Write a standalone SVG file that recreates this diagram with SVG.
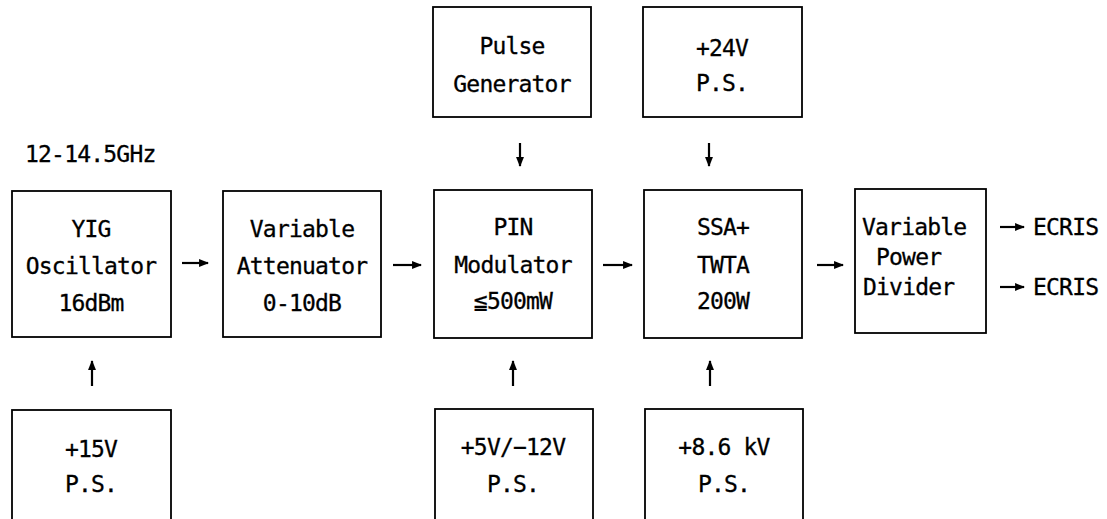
<svg xmlns="http://www.w3.org/2000/svg" width="1107" height="519" viewBox="0 0 1107 519">
<style>
.box{fill:#fff;stroke:#000;stroke-width:1.8}
text{font-family:"DejaVu Sans Mono","Liberation Mono","Noto Sans CJK JP",monospace;font-size:23px;letter-spacing:-0.8px;fill:#000;stroke:#000;stroke-width:0.3}
.c{text-anchor:middle}
.arr{stroke:#000;stroke-width:2.2;fill:none;marker-end:url(#ah)}
</style>
<defs>
<marker id="ah" viewBox="0 0 10 10" refX="9" refY="5" markerWidth="4.5" markerHeight="4.5" orient="auto" markerUnits="strokeWidth">
<path d="M0,1 L10,5 L0,9 Z" fill="#000"/>
</marker>
</defs>
<rect width="1107" height="519" fill="#fff"/>
<text x="25" y="162">12-14.5GHz</text>
<g id="yig"><rect class="box" x="12" y="191" width="159" height="146"/>
<text class="c" x="91" y="237">YIG</text><text class="c" x="91" y="274">Oscillator</text><text class="c" x="91" y="311">16dBm</text></g>
<g id="att"><rect class="box" x="223" y="191" width="158" height="146"/>
<text class="c" x="302" y="237">Variable</text><text class="c" x="302" y="274">Attenuator</text><text class="c" x="302" y="311">0-10dB</text></g>
<g id="pin"><rect class="box" x="434" y="190" width="158" height="148"/>
<text class="c" x="513" y="235">PIN</text><text class="c" x="513" y="273">Modulator</text><text class="c" x="513" y="309">≦500mW</text></g>
<g id="ssa"><rect class="box" x="644" y="190" width="158" height="148"/>
<text class="c" x="723" y="235">SSA+</text><text class="c" x="723" y="273">TWTA</text><text class="c" x="723" y="309">200W</text></g>
<g id="div"><rect class="box" x="855" y="189" width="131" height="144"/>
<text x="862" y="235">Variable</text><text x="876" y="265">Power</text><text x="863" y="295">Divider</text></g>
<g id="pulse"><rect class="box" x="433" y="7" width="158" height="110"/>
<text class="c" x="512" y="54">Pulse</text><text class="c" x="512" y="92">Generator</text></g>
<g id="ps24"><rect class="box" x="643" y="7" width="159" height="110"/>
<text class="c" x="722" y="56">+24V</text><text class="c" x="722" y="91">P.S.</text></g>
<g id="ps15"><rect class="box" x="12" y="410" width="159" height="112"/>
<text class="c" x="91" y="457">+15V</text><text class="c" x="91" y="492">P.S.</text></g>
<g id="ps5"><rect class="box" x="435" y="409" width="158" height="113"/>
<text class="c" x="513" y="455">+5V/−12V</text><text class="c" x="513" y="492">P.S.</text></g>
<g id="ps86"><rect class="box" x="645" y="409" width="158" height="113"/>
<text class="c" x="724" y="455">+8.6 kV</text><text class="c" x="724" y="492">P.S.</text></g>
<text x="1033" y="235">ECRIS</text>
<text x="1033" y="295">ECRIS</text>
<g id="connectors">
<line class="arr" x1="182" y1="263" x2="208" y2="263"/>
<line class="arr" x1="393" y1="265" x2="421" y2="265"/>
<line class="arr" x1="603" y1="265" x2="632" y2="265"/>
<line class="arr" x1="817" y1="265" x2="843" y2="265"/>
<line class="arr" x1="1000" y1="227" x2="1024" y2="227"/>
<line class="arr" x1="1000" y1="287" x2="1024" y2="287"/>
<line class="arr" x1="520" y1="143" x2="520" y2="166"/>
<line class="arr" x1="709" y1="143" x2="709" y2="166"/>
<line class="arr" x1="92" y1="386" x2="92" y2="361"/>
<line class="arr" x1="513" y1="386" x2="513" y2="361"/>
<line class="arr" x1="710" y1="386" x2="710" y2="361"/>
</g>
</svg>
